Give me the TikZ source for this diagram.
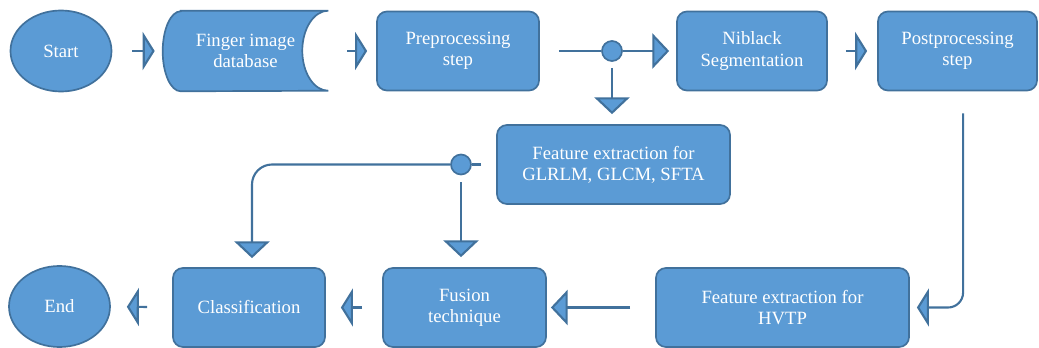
\documentclass[tikz,border=0pt]{standalone}
\usepackage{fontspec}
\setmainfont{Liberation Serif}
\usetikzlibrary{arrows.meta,shapes.geometric,backgrounds}
\definecolor{boxfill}{HTML}{5B9BD5}
\definecolor{boxline}{HTML}{41719C}
\begin{document}
\begin{tikzpicture}[
        x=0.025cm, y=-0.025cm,
        basic/.style = {align=center, text=white, font=\rmfamily\fontsize{13.3}{15}\selectfont, inner sep=0pt},
        box/.style = {basic, draw=boxline, fill=boxfill, line width=1.2pt, rectangle, rounded corners=0.25cm, minimum height=1.975cm},
        term/.style = {basic, draw=boxline, fill=boxfill, line width=1.2pt, ellipse, minimum width=2.525cm, minimum height=2.025cm},
        dot/.style = {circle, draw=boxline, fill=boxfill, line width=1.2pt, minimum size=0.5cm, inner sep=0pt},
        link/.style = {draw=boxline, line width=1.5pt},
        flow/.style = {link, -{Triangle[length=0.3cm, width=0.95cm, fill=boxfill]}},
        flow long/.style = {link, -{Triangle[length=0.42cm, width=0.88cm, fill=boxfill]}}]
    \useasboundingbox (0,0) rectangle (1039,348);
    % top row
    \node[term] (start) at (61,51) {Start};
    \node[basic, minimum width=4.125cm, minimum height=2cm] (db) at (245.5,51) {Finger image\\database};
    \node[box, minimum width=4.05cm] (pre) at (458,51) {Preprocessing\\step};
    \node[dot] (j1) at (612,51) {};
    \node[box, minimum width=3.75cm] (nib) at (752,51) {Niblack\\Segmentation};
    \node[box, minimum width=3.975cm] (post) at (957.5,51) {Postprocessing\\step};
    % middle
    \node[box, minimum width=5.825cm] (glcm) at (613.5,164.5) {Feature extraction for\\GLRLM, GLCM, SFTA};
    \node[dot] (j2) at (461,164.5) {};
    % bottom row
    \node[box, minimum width=6.325cm] (hvtp) at (782.5,307.5) {Feature extraction for\\HVTP};
    \node[box, minimum width=4.075cm] (fusion) at (464.5,307.5) {Fusion\\technique};
    \node[box, minimum width=3.8cm] (class) at (249,307.5) {Classification};
    \node[term] (end) at (59.5,306.5) {End};
    % stored data shape
    \begin{pgfonlayer}{background}
        \filldraw[draw=boxline, fill=boxfill, line width=1.2pt]
            ([xshift=0.45cm]db.north west) -- (db.north east)
            arc[start angle=90, end angle=270, x radius=0.65cm, y radius=1cm]
            -- ([xshift=0.45cm]db.south west)
            arc[start angle=270, end angle=90, x radius=0.45cm, y radius=1cm] -- cycle;
    \end{pgfonlayer}
    % connectors
    \draw[flow, shorten <=0.5cm, shorten >=0.2cm] (start) -- (db);
    \draw[flow, shorten <=0.475cm, shorten >=0.225cm] (db) -- (pre);
    \draw[link, shorten <=0.475cm] (pre) -- (j1);
    \draw[flow long, shorten >=0.175cm] (j1) -- (nib);
    \draw[flow long, shorten <=0.15cm, shorten >=0.25cm] (j1) -- (j1 |- glcm.north);
    \draw[flow, shorten <=0.45cm, shorten >=0.25cm] (nib) -- (post);
    \draw[flow, rounded corners=0.375cm, shorten <=0.55cm, shorten >=0.175cm] ([xshift=0.14cm]post.south) |- (hvtp.east);
    \draw[flow long, shorten <=0.625cm, shorten >=0.1cm] (hvtp) -- (fusion);
    \draw[flow, shorten <=0.5cm, shorten >=0.375cm] (fusion) -- (class);
    \draw[flow, shorten <=0.625cm, shorten >=0.4cm] (class) -- (end);
    \draw[link, shorten <=0.375cm] (glcm) -- (j2);
    \draw[flow long, shorten <=0.175cm, shorten >=0.25cm] (j2) -- (j2 |- fusion.north);
    \draw[flow long, rounded corners=0.5cm, shorten >=0.225cm] (j2.west) -| ([xshift=0.075cm]class.north);
\end{tikzpicture}
\end{document}
